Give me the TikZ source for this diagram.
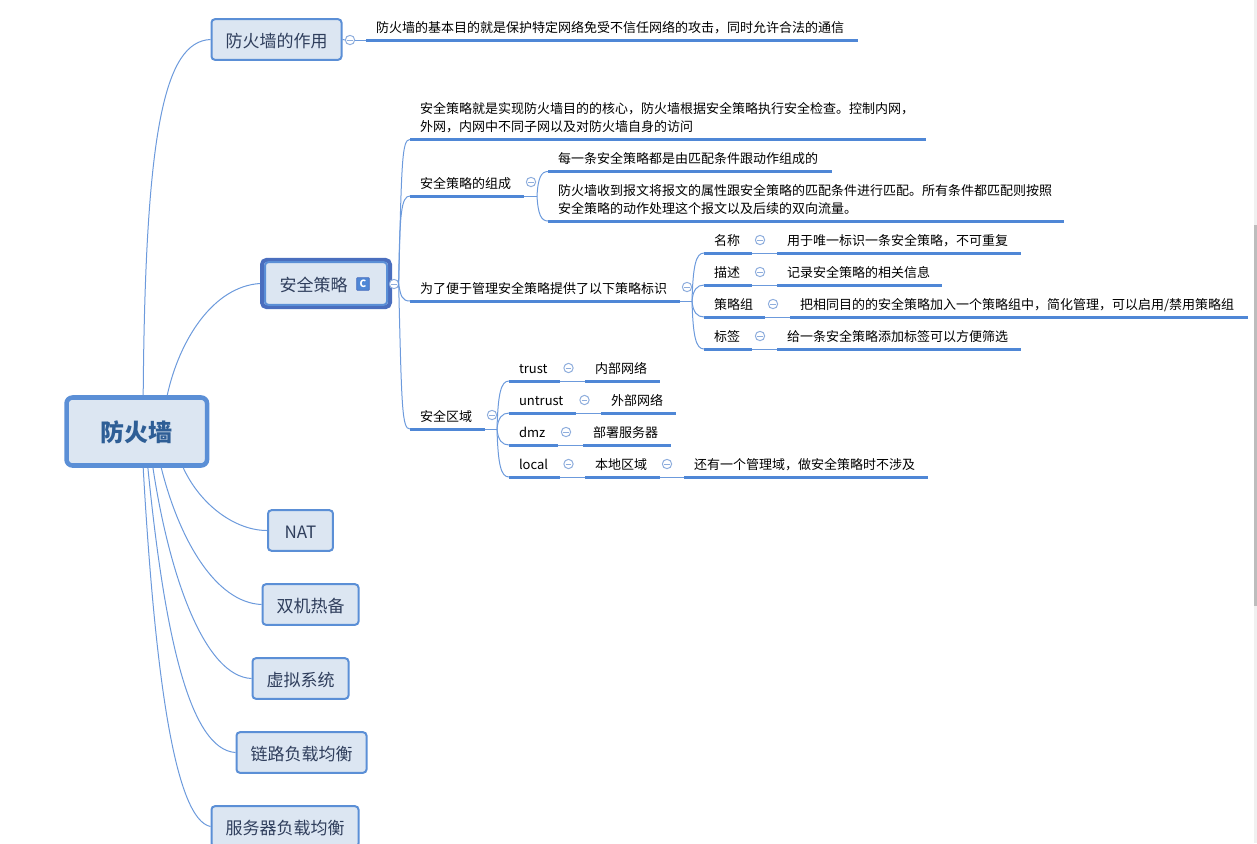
\documentclass[tikz,border=0pt]{standalone}
\usepackage{fontspec}
\setmainfont{Noto Sans CJK SC}
\usetikzlibrary{positioning}
\definecolor{boxfill}{HTML}{DCE6F2}
\definecolor{boxline}{HTML}{5B8FD6}
\definecolor{barblue}{HTML}{4F87D6}
\definecolor{linkblue}{HTML}{6C9ADC}
\definecolor{foldblue}{HTML}{8FAEDD}
\definecolor{selblue}{HTML}{4A6EBE}
\definecolor{topicink}{HTML}{2F3E5C}
\definecolor{rootink}{HTML}{2E5E96}

\begin{document}
\begin{tikzpicture}[
x=.75pt, y=-.75pt,
root/.style={draw=boxline, fill=boxfill, rounded corners=4.5pt, line width=3.4pt, minimum width=105.4pt, minimum height=51pt, text height=17.5pt, text depth=2.2pt, text=rootink, font=\fontsize{18}{20}\selectfont\bfseries},
topic/.style={draw=boxline, fill=boxfill, rounded corners=2.5pt, line width=1.5pt, inner xsep=10.5pt, minimum height=30.4pt, text height=13.5pt, text depth=1.5pt, text=topicink, font=\fontsize{12.75}{15}\selectfont},
selframe/.style={draw=selblue, rounded corners=3.5pt, line width=3pt, minimum width=96pt, minimum height=35.5pt},
badge/.style={draw=selblue, fill=barblue, rounded corners=.6pt, line width=.6pt, minimum size=9.5pt, inner sep=0pt, text=white, font=\fontsize{7.5}{8}\selectfont\bfseries},
leaf/.style={anchor=south west, inner xsep=0pt, inner ysep=0pt, outer sep=0pt, text width=#1*.75pt, align=left, font=\fontsize{9.75}{13.75}\selectfont,
  execute at begin node={\leftskip=7.5pt}, execute at end node={\rule[-5.7pt]{0pt}{5.7pt}},
  append after command={(\tikzlastnode.south west) edge[barline] (\tikzlastnode.south east)}},
barline/.style={draw=barblue, line width=2.25pt},
link/.style={draw=linkblue, line width=.75pt},
fold/.style={circle, draw=foldblue, fill=white, line width=.75pt, minimum size=7pt, inner sep=0pt, outer sep=0pt,
  path picture={\draw[foldblue, line width=.75pt] ([xshift=1.3pt]path picture bounding box.west) -- ([xshift=-1.3pt]path picture bounding box.east);}}
]

\useasboundingbox (0,0) rectangle (1257,843);
\clip (0,0) rectangle (1257,843);

\fill[black!6] (1254,0) rectangle (1257,843);
\fill[black!26] (1254,225) rectangle (1257,606);

\node[root] (wall) at (136.8,431.5) {防火墙};
\node[topic] (role) at (276.5,39.5) {防火墙的作用};
\node[selframe] (secureframe) at (326,283.5) {};
\node[topic, minimum width=91.5pt, minimum height=32pt] (secure) at (326,283.5) {安全策略\hspace*{18.75pt}};
\node[badge] (cmark) at (363,284) {C};
\node[topic, minimum width=48.7pt] (nat) at (300.5,530.5) {NAT};
\node[topic] (backup) at (310.5,604.5) {双机热备};
\node[topic] (vsys) at (300.5,678.5) {虚拟系统};
\node[topic] (linklb) at (301.5,752.5) {链路负载均衡};
\node[topic] (serverlb) at (285,826.5) {服务器负载均衡};

\node[fold] (foldrole) at (350,40) {};
\node[leaf=492] (rolenote) at (366,40) {防火墙的基本目的就是保护特定网络免受不信任网络的攻击，同时允许合法的通信};

\node[fold] (foldsecure) at (394,284) {};
\node[leaf=516] (policy) at (410,139.5) {安全策略就是实现防火墙目的的核心，防火墙根据安全策略执行安全检查。控制内网，\\外网，内网中不同子网以及对防火墙自身的访问};
\node[leaf=114] (parts) at (410,196) {安全策略的组成};
\node[leaf=270] (marks) at (410,301) {为了便于管理安全策略提供了以下策略标识};
\node[leaf=74.5] (zones) at (410,429) {安全区域};

\node[fold] (foldparts) at (531,182) {};
\coordinate (partsfork) at (537,196);
\node[leaf=284] (partsone) at (548,171.5) {每一条安全策略都是由匹配条件跟动作组成的};
\node[leaf=516] (partstwo) at (548,221) {防火墙收到报文将报文的属性跟安全策略的匹配条件进行匹配。所有条件都匹配则按照\\安全策略的动作处理这个报文以及后续的双向流量。};

\node[fold] (foldmarks) at (687,287) {};
\coordinate (marksfork) at (692,301);
\node[leaf=48] (name) at (704,253) {名称};
\node[leaf=48, below=24pt of name.south west, anchor=south west] (desc) {描述};
\node[leaf=61, below=24pt of desc.south west, anchor=south west] (group) {策略组};
\node[leaf=48, below=24pt of group.south west, anchor=south west] (tag) {标签};
\node[leaf=244, right=18.75pt of name.south east, anchor=south west] (nameval) {用于唯一标识一条安全策略，不可重复};
\node[leaf=165, right=18.75pt of desc.south east, anchor=south west] (descval) {记录安全策略的相关信息};
\node[leaf=458, right=18.75pt of group.south east, anchor=south west] (groupval) {把相同目的的安全策略加入一个策略组中，简化管理，可以启用/禁用策略组};
\node[leaf=244, right=18.75pt of tag.south east, anchor=south west] (tagval) {给一条安全策略添加标签可以方便筛选};
\node[fold] (foldname) at (760,240) {};
\node[fold] (folddesc) at (760,272) {};
\node[fold] (foldgroup) at (773,304) {};
\node[fold] (foldtag) at (760,336) {};

\node[fold] (foldzones) at (492,415) {};
\coordinate (zonesfork) at (497,429);
\node[leaf=51] (trust) at (509,381) {trust};
\node[leaf=67, below=24pt of trust.south west, anchor=south west] (untrust) {untrust};
\node[leaf=49, below=24pt of untrust.south west, anchor=south west] (dmz) {dmz};
\node[leaf=51, below=24pt of dmz.south west, anchor=south west] (local) {local};
\node[leaf=75, right=18.75pt of trust.south east, anchor=south west] (trustval) {内部网络};
\node[leaf=75, right=18.75pt of untrust.south east, anchor=south west] (untrustval) {外部网络};
\node[leaf=88, right=18.75pt of dmz.south east, anchor=south west] (dmzval) {部署服务器};
\node[leaf=75, right=18.75pt of local.south east, anchor=south west] (localval) {本地区域};
\node[leaf=244, right=18pt of localval.south east, anchor=south west] (localnote) {还有一个管理域，做安全策略时不涉及};
\node[fold] (foldtrust) at (568.5,368) {};
\node[fold] (folduntrust) at (584.5,400) {};
\node[fold] (folddmz) at (566,432) {};
\node[fold] (foldlocal) at (568.5,464) {};
\node[fold] (foldlocalval) at (667,464) {};

\draw[link] (wall.80) .. controls +(2,-265) and +(-46,2) .. (role.west);
\draw[link] (wall.50) .. controls +(12,-55) and +(-47,3) .. (secureframe.west);
\draw[link] (wall.-38) .. controls +(17,37) and +(-32,0) .. (nat.west);
\draw[link] (wall.-56) .. controls +(18,72) and +(-46,-2) .. (backup.west);
\draw[link] (wall.-66) .. controls +(17,112) and +(-46,-2) .. (vsys.west);
\draw[link] (wall.-73) .. controls +(17,172) and +(-45,-3) .. (linklb.west);
\draw[link] (wall.-80) .. controls +(12,212) and +(-35,-7) .. (serverlb.west);

\draw[link] (role.east) -- (foldrole.west);
\draw[link] (foldrole.east) -- (rolenote.south west);

\draw[link] (foldsecure.east) .. controls +(3,-125) and +(-8,0) .. (policy.south west);
\draw[link] (foldsecure.east) .. controls +(1,-70) and +(-9,0) .. (parts.south west);
\draw[link] (foldsecure.east) .. controls +(2,12) and +(-8,0) .. (marks.south west);
\draw[link] (foldsecure.east) .. controls +(3,125) and +(-8,0) .. (zones.south west);

\draw[link] (parts.south east) -- (partsfork);
\draw[link] (partsfork) .. controls +(1,-18) and +(-7,0) .. (partsone.south west);
\draw[link] (partsfork) .. controls +(1,18) and +(-7,0) .. (partstwo.south west);

\draw[link] (marks.south east) -- (marksfork);
\draw[link] (marksfork) .. controls +(1,-36) and +(-8,0) .. (name.south west);
\draw[link] (marksfork) .. controls +(1,-11) and +(-7,0) .. (desc.south west);
\draw[link] (marksfork) .. controls +(1,11) and +(-7,0) .. (group.south west);
\draw[link] (marksfork) .. controls +(1,36) and +(-8,0) .. (tag.south west);
\draw[link] (name.south east) -- (nameval.south west);
\draw[link] (desc.south east) -- (descval.south west);
\draw[link] (group.south east) -- (groupval.south west);
\draw[link] (tag.south east) -- (tagval.south west);

\draw[link] (zones.south east) -- (zonesfork);
\draw[link] (zonesfork) .. controls +(1,-36) and +(-8,0) .. (trust.south west);
\draw[link] (zonesfork) .. controls +(1,-11) and +(-7,0) .. (untrust.south west);
\draw[link] (zonesfork) .. controls +(1,11) and +(-7,0) .. (dmz.south west);
\draw[link] (zonesfork) .. controls +(1,36) and +(-8,0) .. (local.south west);
\draw[link] (trust.south east) -- (trustval.south west);
\draw[link] (untrust.south east) -- (untrustval.south west);
\draw[link] (dmz.south east) -- (dmzval.south west);
\draw[link] (local.south east) -- (localval.south west);
\draw[link] (localval.south east) -- (localnote.south west);

\end{tikzpicture}
\end{document}
